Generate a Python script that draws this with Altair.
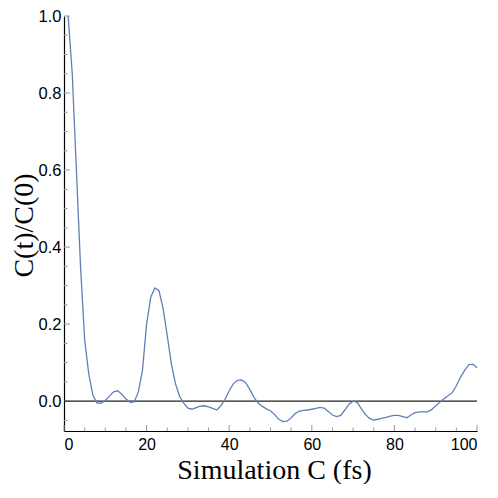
import altair as alt
import pandas as pd

t = list(range(1, 101))
c = [1.0, 0.85, 0.60, 0.35, 0.16, 0.07, 0.015, -0.005, -0.005, 0.002,
     0.013, 0.024, 0.027, 0.018, 0.006, -0.003, -0.002, 0.024, 0.08, 0.2,
     0.27, 0.294, 0.287, 0.24, 0.17, 0.097, 0.045, 0.012, -0.005, -0.018,
     -0.021, -0.017, -0.013, -0.012, -0.015, -0.019, -0.023, -0.012, 0.005, 0.027,
     0.045, 0.054, 0.055, 0.048, 0.03, 0.01, -0.005, -0.013, -0.02, -0.025,
     -0.035, -0.047, -0.053, -0.052, -0.043, -0.032, -0.026, -0.024, -0.023, -0.021,
     -0.019, -0.016, -0.018, -0.027, -0.036, -0.04, -0.037, -0.023, -0.008, 0.0,
     -0.003, -0.02, -0.035, -0.045, -0.049, -0.047, -0.044, -0.042, -0.039, -0.037,
     -0.037, -0.04, -0.043, -0.036, -0.03, -0.028, -0.028, -0.028, -0.022, -0.012,
     -0.003, 0.006, 0.014, 0.022, 0.04, 0.062, 0.08, 0.094, 0.096, 0.087]

x_major = [0, 20, 40, 60, 80, 100]
x_minor = [5, 10, 15, 25, 30, 35, 45, 50, 55, 65, 70, 75, 85, 90, 95]
y_major = [0.0, 0.2, 0.4, 0.6, 0.8, 1.0]
y_minor = [-0.05, 0.05, 0.1, 0.15, 0.25, 0.3, 0.35, 0.45, 0.5, 0.55, 0.65, 0.7, 0.75, 0.85, 0.9, 0.95]

W, H = 413, 415
df = pd.DataFrame({"t": t, "c": c})

xs = alt.Scale(domain=[0, 100], nice=False, zero=False)
ys = alt.Scale(domain=[-0.0775, 1.0], nice=False, zero=False)

line = alt.Chart(df).mark_line(color="#5E81B5", strokeWidth=1.3).encode(
    x=alt.X("t:Q", scale=xs, title="Simulation C (fs)",
            axis=alt.Axis(values=x_major, format="d", ticks=False, grid=False,
                          domainColor="#000000", domainWidth=1.2,
                          labelFont="Liberation Sans", labelFontSize=16, labelColor="#000000",
                          labelPadding=5,
                          titleFont="Liberation Serif", titleFontSize=28, titleFontWeight="normal",
                          titleColor="#000000", titleX=210, titleY=47,
                          titleAlign="center", titleBaseline="alphabetic")),
    y=alt.Y("c:Q", scale=ys, title="C(t)/C(0)",
            axis=alt.Axis(values=y_major, format=".1f", ticks=False, grid=False,
                          domainColor="#000000", domainWidth=1.2,
                          labelFont="Liberation Sans", labelFontSize=16.5, labelColor="#000000",
                          labelPadding=3,
                          titleFont="Liberation Serif", titleFontSize=28, titleFontWeight="normal",
                          titleColor="#000000", titleX=-40, titleY=209, titleAngle=270,
                          titleAlign="center", titleBaseline="middle")),
)

zero = alt.Chart(pd.DataFrame({"y": [0.0]})).mark_rule(color="#222222", strokeWidth=1.3).encode(
    y=alt.Y("y:Q", scale=ys)
)

tick_col = "#9a9a9a"
xmaj = alt.Chart(pd.DataFrame({"x": x_major})).mark_rule(color=tick_col, strokeWidth=1).encode(
    x=alt.X("x:Q", scale=xs), y=alt.value(H), y2=alt.value(H - 6))
xmin = alt.Chart(pd.DataFrame({"x": x_minor})).mark_rule(color=tick_col, strokeWidth=1).encode(
    x=alt.X("x:Q", scale=xs), y=alt.value(H), y2=alt.value(H - 3.5))
ymaj = alt.Chart(pd.DataFrame({"y": y_major})).mark_rule(color=tick_col, strokeWidth=1).encode(
    y=alt.Y("y:Q", scale=ys), x=alt.value(0), x2=alt.value(6))
ymin = alt.Chart(pd.DataFrame({"y": y_minor})).mark_rule(color=tick_col, strokeWidth=1).encode(
    y=alt.Y("y:Q", scale=ys), x=alt.value(0), x2=alt.value(3.5))

chart = alt.layer(xmaj, xmin, ymaj, ymin, zero, line).properties(
    width=W, height=H,
    autosize=alt.AutoSizeParams(type="none"),
    padding={"left": 56, "top": 8, "right": 13, "bottom": 53},
).configure_view(stroke=None)

chart.save("out.html", embed_options={"renderer": "svg", "actions": False})
